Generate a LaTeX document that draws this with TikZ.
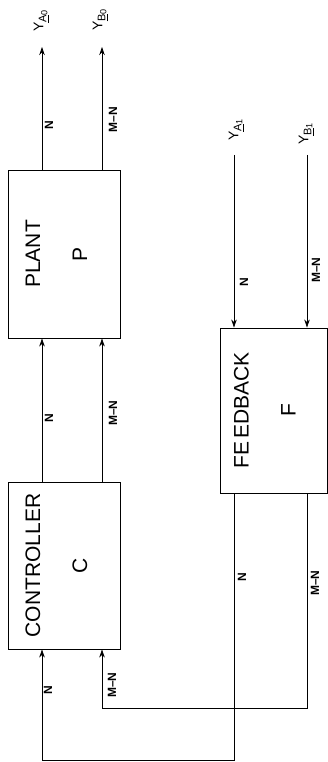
\documentclass[tikz,border=0pt]{standalone}
\usepackage{fontspec}
\setmainfont{Liberation Sans}
\usetikzlibrary{positioning,arrows.meta}
\tikzstyle{block} = [draw, line width=0.9pt, minimum width=112pt, minimum height=168pt, inner sep=0pt]
\tikzstyle{arrow} = [line width=0.8pt, -{Stealth[length=8pt,width=5.5pt]}]
\newcommand{\yname}[2]{Y\raisebox{-3pt}{\fontsize{11}{12}\selectfont\underline{#1}\raisebox{-1pt}{\fontsize{9}{10}\selectfont #2}}}

\begin{document}
\begin{tikzpicture}[x=1pt, y=-1pt,
		title/.style={rotate=90, font=\fontsize{21}{25}\selectfont, inner sep=0pt},
		lbl/.style={rotate=90, font=\fontsize{12}{14}\selectfont\bfseries, inner sep=0pt},
		ylbl/.style={rotate=90, font=\fontsize{14}{16}\selectfont, inner sep=0pt}]

	\useasboundingbox (0,0) rectangle (328,762);

	% blocks
	\node[block] (plant) at (64,254) {};
	\node[block, minimum height=167pt] (ctrl) at (64,565.5) {};
	\node[block, minimum width=107pt, minimum height=165pt] (fb) at (273.5,410.5) {};

	\node[title] (plantname) at ([xshift=-31pt]plant.center) {PLANT};
	\node[title] (plantsym) at ([xshift=16pt]plant.center) {P};
	\node[title] (ctrlname) at ([xshift=-31pt]ctrl.center) {CONTROLLER};
	\node[title] (ctrlsym) at ([xshift=16pt]ctrl.center) {C};
	\node[title] (fbname) at ([xshift=-32pt]fb.center) {FE\kern3pt EDBACK};
	\node[title] (fbsym) at ([xshift=15pt]fb.center) {F};

	% free ends
	\coordinate (ao) at (42,47);
	\coordinate (bo) at (102,47);
	\coordinate (ai) at (234,155);
	\coordinate (bi) at (307,155);
	\coordinate (aloop) at (234,760);
	\coordinate (bloop) at (307,708);

	\node[ylbl] (yao) at (41,21) {\yname{A}{0}};
	\node[ylbl] (ybo) at (100,20) {\yname{B}{0}};
	\node[ylbl] (yai) at (236,130) {\yname{A}{1}};
	\node[ylbl] (ybi) at (306,134) {\yname{B}{1}};

	% connections
	\draw[arrow] (plant.north -| ao) -- (ao);
	\draw[arrow] (plant.north -| bo) -- (bo);
	\draw[arrow] (ctrl.north -| ao) -- (plant.south -| ao);
	\draw[arrow] (ctrl.north -| bo) -- (plant.south -| bo);
	\draw[arrow] (ai) -- (fb.north -| ai);
	\draw[arrow] (bi) -- (fb.north -| bi);
	\draw[arrow] (fb.south -| aloop) -- (aloop) -| (ctrl.south -| ao);
	\draw[arrow] (fb.south -| bloop) -- (bloop) -| (ctrl.south -| bo);

	% widths
	\node[lbl] (n1) at (49,125) {N};
	\node[lbl] (mn1) at (113,120) {M\textendash N};
	\node[lbl] (n2) at (49,418) {N};
	\node[lbl] (mn2) at (113,413) {M\textendash N};
	\node[lbl] (n3) at (244,282) {N};
	\node[lbl] (mn3) at (316,270) {M\textendash N};
	\node[lbl] (n4) at (242,577) {N};
	\node[lbl] (mn4) at (315,583) {M\textendash N};
	\node[lbl] (n5) at (48,690) {N};
	\node[lbl] (mn5) at (112,685) {M\textendash N};
\end{tikzpicture}
\end{document}
